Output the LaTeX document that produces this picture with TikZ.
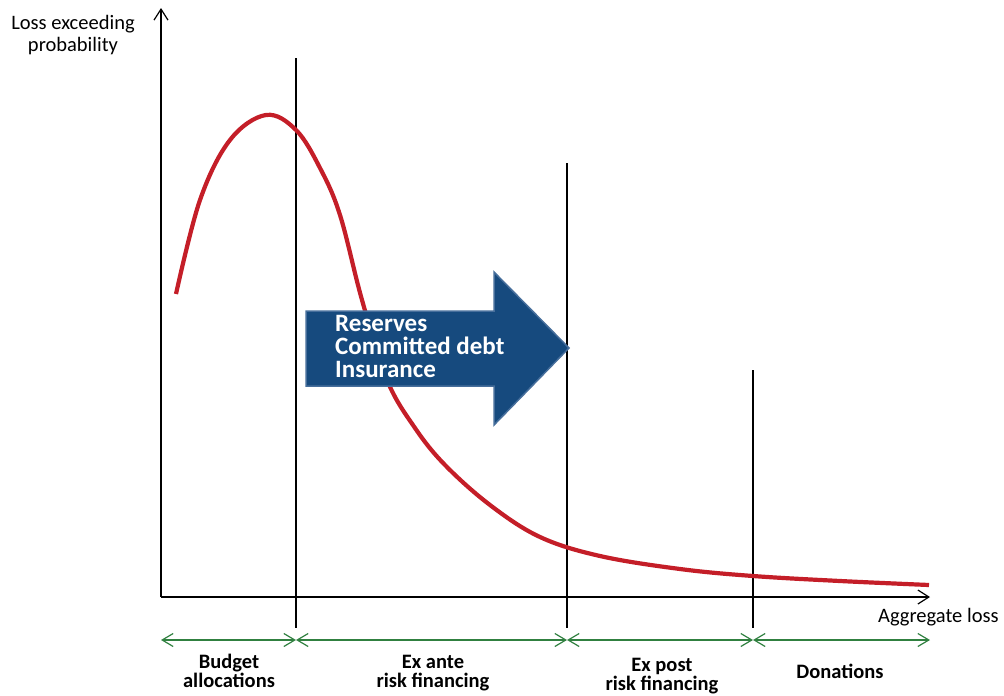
\documentclass[tikz,border=0pt]{standalone}
\usepackage{fontspec}
\setmainfont{Carlito}
\usetikzlibrary{arrows.meta}
\definecolor{curvered}{RGB}{196,30,40}
\definecolor{bandgreen}{RGB}{48,128,64}
\definecolor{blockblue}{RGB}{22,74,126}
\definecolor{blockedge}{RGB}{70,110,155}
\tikzset{
  axis/.style={line width=1.2pt, -{Straight Barb[length=11pt,width=14pt]}},
  divider/.style={line width=1.1pt},
  band/.style={bandgreen, line width=1.2pt, {Straight Barb[length=11pt,width=13pt]}-{Straight Barb[length=11pt,width=13pt]}},
  bandlabel/.style={font=\fontsize{20.5}{19}\selectfont\bfseries, align=center, inner sep=0pt},
}
\begin{document}
\begin{tikzpicture}[x=1pt,y=-1pt]
\useasboundingbox (0,0) rectangle (1004,696);
% axes
\coordinate (O) at (161,597);
\coordinate (ytop) at (161,8);
\coordinate (xend) at (930,597);
\draw[axis] (O) -- (ytop);
\draw[axis] (O) -- (xend);
\node[font=\fontsize{20.5}{22}\selectfont, align=center, inner sep=0pt] (ylab) at (73,35) {Loss exceeding\\probability};
\node[font=\fontsize{20.5}{22}\selectfont, anchor=west, inner sep=0pt] (xlab) at (878,617) {Aggregate loss};
% dividers
\coordinate (d1t) at (296,58);  \coordinate (d1b) at (296,628);
\coordinate (d2t) at (567,163); \coordinate (d2b) at (567,628);
\coordinate (d3t) at (753,370); \coordinate (d3b) at (753,628);
\draw[divider] (d1t) -- (d1b);
\draw[divider] (d2t) -- (d2b);
\draw[divider] (d3t) -- (d3b);
% curve
\draw[curvered, line width=4.2pt] plot[smooth, tension=0.6] coordinates {
 (176,294) (200,200) (230,140) (266,115) (296,130) (320,168) (340,215)
 (362,300) (387,380) (415,428) (445,465) (490,505) (540,537) (600,556)
 (680,569) (753,576) (840,581) (929,585)};
% block arrow
\draw[fill=blockblue, draw=blockedge, line width=1.5pt, line join=miter]
 (306,311) -- (494,311) -- (494,272) -- (569,348) -- (494,425) -- (494,386) -- (306,386) -- cycle;
\node[font=\fontsize{25}{23}\selectfont\bfseries, text=white, align=left, anchor=west, inner sep=0pt] (block) at (335,346) {Reserves\\Committed debt\\Insurance};
% bands
\coordinate (b0) at (161,640);
\coordinate (b1) at (296,640);
\coordinate (b2) at (567,640);
\coordinate (b3) at (753,640);
\coordinate (b4) at (930,640);
\draw[band] (b0) -- (b1);
\draw[band] (b1) -- (b2);
\draw[band] (b2) -- (b3);
\draw[band] (b3) -- (b4);
\node[bandlabel] (l1) at (229,671) {Budget\\allocations};
\node[bandlabel] (l2) at (433,673) {Ex ante\\risk financing};
\node[bandlabel] (l3) at (662,676) {Ex post\\risk financing};
\node[bandlabel] (l4) at (840,671) {Donations};
\end{tikzpicture}
\end{document}
